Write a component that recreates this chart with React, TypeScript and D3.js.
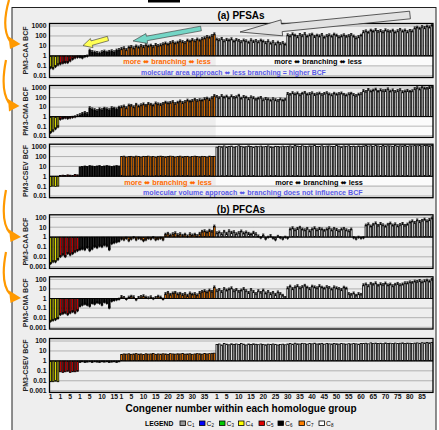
import React from 'react';
import * as d3 from 'd3';

// homologue groups present on the x axis
const groupNames = ['C4', 'C5', 'C6', 'C7', 'C8'];
const groupSizes = [4, 8, 17, 39, 89];
const groupColors = ['#ffff00', '#e00000', '#000000', '#ff7f00', '#ffffff'];
const congenerTicks = [1, 5, 10, 15, 20, 25, 30, 35, 40, 45, 50, 55, 60, 65, 70, 75, 80, 85];

const legendNums = ['1', '2', '3', '4', '5', '6', '7', '8'];
const legendColors = ['#999999', '#0000ff', '#00cc00', '#ffff00', '#e00000', '#000000', '#ff7f00', '#ffffff'];

const pfsaTicks = [0.01, 0.1, 1, 10, 100, 1000];
const pfcaTicks = [0.001, 0.01, 0.1, 1, 10, 100];

// (a) PFSAs, PM3-CAA BCF
const pfsaCaa = [
  0.06, 0.05, 0.08, 0.12,
  0.15, 0.18, 0.2, 0.2, 0.3, 0.45, 0.6, 0.7,
  0.7, 0.6, 0.8, 0.9, 3.5, 2.5, 2.2, 2.0, 1.8, 2.4, 2.8, 2.2, 2.6, 3.0, 2.4, 3.5, 4.0,
  5, 6, 4, 7, 8, 6, 9, 7, 10, 8, 12, 9, 11, 8, 13, 10, 12, 15, 18, 14, 20, 25, 18, 22, 30, 25, 20, 35, 28, 40, 30, 45, 35, 50, 60, 80, 70, 100, 150,
  45, 38, 52, 30, 42, 35, 48, 28, 40, 33, 25, 36, 30, 22, 38, 27, 32, 24, 35, 28, 20, 30, 18, 25, 15, 22, 16, 20, 14,
  120, 95, 150, 110, 80, 130, 100, 160, 90, 120, 140, 85, 110, 95, 130, 70, 100, 120, 90, 140, 110, 75, 95, 120, 85, 100, 130, 90, 60, 80, 110,
  250, 300, 220, 350, 280, 400, 260, 320, 240, 380, 300, 270, 350, 230, 310, 420, 290, 360, 250, 330, 300,
  600, 700, 550, 800, 650, 900, 750, 1100,
];
// (a) PFSAs, PM3-CMA BCF
const pfsaCma = [
  0.02, 0.03, 0.05, 0.08,
  0.5, 0.6, 0.7, 0.6, 0.7, 0.8, 0.9, 1.2,
  1.5, 2, 2.5, 2, 8, 6, 5, 4, 6, 5, 7, 6, 5, 8, 7, 6, 9,
  10, 12, 8, 15, 14, 10, 18, 12, 16, 20, 14, 22, 18, 15, 25, 20, 18, 22, 30, 25, 28, 35, 22, 30, 40, 28, 35, 50, 38, 45, 60, 45, 55, 50, 70, 80, 60, 90, 150,
  120, 90, 150, 100, 130, 85, 140, 95, 110, 160, 80, 120, 100, 70, 110, 90, 60, 80, 95, 55, 75, 65, 50, 70, 55, 45, 65, 50, 60,
  250, 200, 300, 220, 280, 180, 260, 320, 210, 240, 290, 200, 230, 270, 190, 250, 300, 220, 180, 260, 210, 240, 280, 200, 170, 230, 260, 190, 150, 210, 240,
  500, 400, 650, 450, 550, 700, 420, 600, 480, 520, 750, 450, 580, 400, 500, 620, 380, 450, 520, 420, 480,
  800, 1000, 750, 1200, 900, 850, 1100, 1300,
];
// (a) PFSAs, PM3-CSEV BCF
const pfsaCsev = [
  0.09, 0.1, 0.09, 0.1,
  1.2, 1.3, 1.2, 1.4, 1.3, 1.2, 1.5, 1.4,
  9, 10, 11, 10, 12, 11, 10, 11, 12, 10, 11, 12, 11, 10, 11, 12, 11,
  100, 110, 90, 100, 105, 95, 110, 100, 90, 105, 100, 110, 95, 100, 90, 105, 110, 100, 95, 100, 110, 105, 90, 100, 110, 95, 100, 105, 90, 100, 110, 100, 95, 105, 100, 90, 110, 100, 105,
  900, 1100, 1000, 1200, 950, 1050, 1150, 900, 1000, 1250, 1100, 950, 1000, 1200, 1050, 900, 1100, 1000, 1150, 950, 1050, 1200, 1000, 900, 1100, 1050, 950, 1150, 1000,
  1100, 1200, 1000, 1300, 1150, 1050, 1250, 1100, 1000, 1200, 1150, 1300, 1050, 1100, 1250, 1000, 1150, 1200, 1100, 1050, 1300, 1150, 1000, 1200, 1100, 1250, 1050, 1150, 1000, 1200, 1100,
  1200, 1300, 1150, 1250, 1100, 1350, 1200, 1050, 1300, 1150, 1250, 1200, 1100, 1300, 1150, 1250, 1200, 1350, 1100, 1250, 1200,
  1300, 1250, 1350, 1200, 1300, 1400, 1250, 1350,
];
// (b) PFCAs, PM3-CAA BCF
const pfcaCaa = [
  0.002, 0.003, 0.003, 0.005,
  0.01, 0.015, 0.01, 0.02, 0.015, 0.02, 0.03, 0.04,
  0.05, 0.06, 0.05, 0.08, 0.04, 0.06, 0.1, 0.08, 0.12, 0.1, 0.15, 0.12, 0.05, 0.2, 0.25, 0.3, 0.35,
  0.6, 0.5, 0.7, 0.4, 0.6, 0.8, 0.5, 0.7, 0.6, 0.4, 0.5, 0.7, 0.6, 0.8, 0.5, 0.6, 0.7, 0.5,
  1.8, 2.2, 1.5, 2.0, 2.5, 1.6, 2.0, 1.4, 1.8, 1.2, 2.0, 1.5, 1.8, 1.3, 2.2, 3.5, 4.0, 3.0, 4.5, 3.5, 12,
  2.5, 3.0, 2.0, 3.5, 2.2, 4.0, 2.8, 3.2, 2.0, 2.6, 3.8, 2.4, 3.0, 2.2, 1.8, 2.8, 2.0,
  1.2, 0.8, 1.5, 0.6, 0.9, 1.3, 0.7, 0.5, 1.1, 0.8, 0.6, 0.9, 0.7,
  6, 8, 5, 7, 9, 6, 5, 7, 4, 6, 8, 5, 7, 6, 4.5, 6, 8, 5, 7, 5.5, 4, 6, 7, 5, 4, 6,
  0.8, 0.6, 0.9, 0.7, 0.8,
  15, 20, 12, 18, 25, 14, 22, 16, 12, 18, 24, 15, 20, 13, 17, 22, 14, 19,
  30, 40, 28, 50, 35, 45, 60, 40, 55, 80,
];
// (b) PFCAs, PM3-CMA BCF
const pfcaCma = [
  0.004, 0.005, 0.006, 0.008,
  0.02, 0.025, 0.03, 0.02, 0.03, 0.04, 0.03, 0.05,
  0.15, 0.2, 0.25, 0.2, 0.15, 0.3, 0.25, 0.35, 0.3, 0.2, 0.4, 0.3, 0.1, 0.5, 0.6, 0.7, 0.8,
  1.5, 1.2, 0.8, 1.3, 1.6, 1.4, 0.7, 1.2, 1.5, 1.8, 1.3, 1.1, 1.4, 0.9, 1.2, 1.6, 1.3, 0.8,
  3, 4, 2.5, 3.5, 4, 2.8, 3.2, 2.4, 3, 2, 3.5, 2.6, 3, 2.2, 4, 5, 6, 4.5, 7, 5, 15,
  6, 8, 5, 10, 7, 9, 12, 6, 8, 5, 7, 10, 6, 4, 8, 5, 3, 6, 4, 7, 3.5, 5, 3, 4, 2.5, 4.5, 3, 2, 1.2,
  12, 18, 10, 15, 20, 12, 16, 22, 14, 10, 18, 15, 12, 20, 14, 11, 16, 13, 9, 15, 12, 10, 8, 14, 11, 3, 2.5, 3.5, 2, 3, 2.5,
  25, 30, 20, 35, 28, 40, 22, 32, 26, 38, 24, 30, 20, 28, 35, 25, 30, 40,
  40, 50, 45, 60, 55, 70, 50, 65, 75, 60, 90,
];
// (b) PFCAs, PM3-CSEV BCF
const pfcaCsev = [
  0.008, 0.008, 0.009, 0.008,
  0.08, 0.07, 0.08, 0.09, 0.07, 0.08, 0.08, 0.09,
  0.7, 0.8, 0.7, 0.75, 0.8, 0.7, 0.8, 0.75, 0.7, 0.8, 0.75, 0.8, 0.7, 0.75, 0.8, 0.7, 0.8,
  4.5, 5, 4.8, 5.2, 4.6, 5, 5.4, 4.8, 5, 4.4, 5.2, 4.8, 5, 5.5, 4.6, 5, 4.8, 5.2, 5, 4.6, 5.4, 5, 4.8, 5.2, 5, 5.6, 4.8, 5, 5.2, 4.6, 5, 5.4, 5.2, 4.8, 5.6, 5, 5.4, 5.8, 6,
  45, 50, 40, 55, 48, 42, 52, 46, 50, 44, 55, 48, 40, 50, 45, 52, 47, 43, 50, 46, 42, 48, 44, 50, 46, 40, 45, 48, 42,
  50, 55, 48, 60, 52, 50, 58, 54, 48, 56, 52, 60, 50, 54, 58, 48, 55, 52, 50, 57, 53, 49, 55, 52, 48, 54, 50, 56, 52, 48, 55,
  55, 60, 52, 65, 58, 62, 56, 60, 54, 64, 58, 60, 55, 62, 57, 60, 65, 58, 62, 60, 57,
  62, 65, 60, 68, 64, 70, 66, 72,
];

const W = 439;
const H = 430;
const X0 = 49.5;
const X1 = 433;
const FONT = 'Liberation Sans, Arial, Helvetica, sans-serif';
const ARROWFONT = 'DejaVu Sans, sans-serif';
const ORANGE_TXT = '#ff6a00';
const BLUE_TXT = '#5a5ae6';

const panels = [
  { label: 'PM3-CAA BCF', values: pfsaCaa, ticks: pfsaTicks, yTop: 26, yBot: 75.8, err: 1.35, white: [1, 0.1] },
  { label: 'PM3-CMA BCF', values: pfsaCma, ticks: pfsaTicks, yTop: 88, yBot: 135.7, err: 1.35, white: [1, 0.007] },
  { label: 'PM3-CSEV BCF', values: pfsaCsev, ticks: pfsaTicks, yTop: 146.7, yBot: 196, err: 1.08, white: [1, 0.12] },
  { label: 'PM3-CAA BCF', values: pfcaCaa, ticks: pfcaTicks, yTop: 217.3, yBot: 266.7, err: 1.35, white: null },
  { label: 'PM3-CMA BCF', values: pfcaCma, ticks: pfcaTicks, yTop: 279.3, yBot: 327.3, err: 1.35, white: null },
  { label: 'PM3-CSEV BCF', values: pfcaCsev, ticks: pfcaTicks, yTop: 341, yBot: 390.7, err: 1.08, white: null },
];

const nBars = d3.sum(groupSizes);
const groupStart = groupSizes.map((_, i) => d3.sum(groupSizes.slice(0, i)));
const barGroup: number[] = [];
groupSizes.forEach((s, g) => { for (let k = 0; k < s; k++) barGroup.push(g); });

const x = d3.scaleBand<number>().domain(d3.range(nBars)).range([X0, X1]).paddingInner(0.08);

function blockArrow(tx: number, ty: number, px: number, py: number, bw: number, hw: number, hl: number) {
  const dx = px - tx, dy = py - ty;
  const len = Math.hypot(dx, dy);
  const ux = dx / len, uy = dy / len;
  const nx = -uy, ny = ux;
  const bx = px - ux * hl, by = py - uy * hl;
  const pts = [
    [tx + nx * bw, ty + ny * bw],
    [bx + nx * bw, by + ny * bw],
    [bx + nx * hw, by + ny * hw],
    [px, py],
    [bx - nx * hw, by - ny * hw],
    [bx - nx * bw, by - ny * bw],
    [tx - nx * bw, ty - ny * bw],
  ];
  return pts.map((p) => p[0].toFixed(1) + ',' + p[1].toFixed(1)).join(' ');
}

function Panel({ p }: { p: typeof panels[number] }) {
  const lo = p.ticks[0];
  const hi = p.ticks[p.ticks.length - 1];
  const y = d3.scaleLog().domain([lo, hi]).range([p.yBot, p.yTop]);
  const boxTop = p.yTop - 2.5;
  const boxBot = p.yBot + 1.7;
  const y1 = y(1);
  const bw = x.bandwidth();
  const c8x = x(groupStart[4]) as number;
  return (
    <g>
      <rect x={X0} y={boxTop} width={X1 - X0} height={boxBot - boxTop} fill="#eeeeee" />
      {p.white && (
        <rect x={c8x} y={y(p.white[0])} width={X1 - c8x} height={Math.min(y(p.white[1]), boxBot) - y(p.white[0])} fill="#fbfbfb" />
      )}
      {p.ticks.map((t) => (
        <line key={'g' + t} x1={X0} x2={X1} y1={y(t)} y2={y(t)} stroke="#555" strokeWidth={0.8} strokeDasharray="1,1" />
      ))}
      {p.values.map((v, i) => {
        const yv = y(v);
        const g = barGroup[i];
        const xi = x(i) as number;
        const top = Math.min(yv, y1);
        const h = Math.abs(yv - y1);
        const e1 = y(v * p.err);
        const e2 = y(v / p.err);
        return (
          <g key={i}>
            <rect x={xi + 0.3} y={top} width={bw - 0.6} height={Math.max(h, 0.3)} fill={groupColors[g]} stroke="#000" strokeWidth={0.8} />
            {p.err > 1.1 && (
              <>
                <line x1={xi + bw / 2} x2={xi + bw / 2} y1={e1} y2={e2} stroke="#000" strokeWidth={0.8} />
                <line x1={xi} x2={xi + bw} y1={e1} y2={e1} stroke="#000" strokeWidth={0.8} />
              </>
            )}
          </g>
        );
      })}
      <line x1={X0} x2={X1} y1={y1} y2={y1} stroke="#000" strokeWidth={0.9} />
      <rect x={X0} y={boxTop} width={X1 - X0} height={boxBot - boxTop} fill="none" stroke="#000" strokeWidth={1.3} />
      {p.ticks.map((t) => (
        <text key={'t' + t} x={46.5} y={y(t)} dy="0.35em" textAnchor="end" fontFamily={FONT} fontWeight="bold" fontSize={6.8} fill="#111">
          {String(t)}
        </text>
      ))}
      <text transform={`translate(27.5,${(boxTop + boxBot) / 2}) rotate(-90)`} textAnchor="middle" fontFamily={FONT} fontSize={7} fontWeight="bold" fill="#222">
        {p.label}
      </text>
    </g>
  );
}

function Sub({ x0, y0, n, color }: { x0: number; y0: number; n: string; color: string }) {
  return (
    <g>
      <rect x={x0} y={y0 - 4.5} width={5.5} height={4.5} fill={color} stroke="#000" strokeWidth={0.8} />
      <text x={x0 + 7} y={y0} fontFamily={FONT} fontSize={6.8} fill="#000">
        C<tspan fontSize={4.5} dy={1.2}>{n}</tspan>
      </text>
    </g>
  );
}

function BranchText({ x0, y0, color, parts, size, anchor }: { x0: number; y0: number; color: string; parts: string[]; size: number; anchor?: string }) {
  return (
    <text x={x0} y={y0} textAnchor={anchor || 'middle'} fontFamily={FONT} fontWeight="bold" fontSize={size} fill={color}>
      {parts.map((s, k) =>
        s === '<>' ? <tspan key={k} fontFamily={ARROWFONT} fontWeight="bold">⬌</tspan> : <tspan key={k}>{s}</tspan>
      )}
    </text>
  );
}

export default function App() {
  const legendX = [180, 199.5, 219.5, 238.5, 259, 278, 299, 319];
  const tickLabels: { i: number; n: number }[] = [];
  groupSizes.forEach((s, g) => {
    congenerTicks.filter((n) => n <= s).forEach((n) => tickLabels.push({ i: groupStart[g] + n - 1, n }));
  });
  const orangeArrows = [
    { d: 'M 9,0 Q 1,28 10,41', tip: [20.5, 44], b1: [8.5, 36.5], b2: [10, 49] },
    { d: 'M 6,60 Q 0,90 9,103', tip: [19.5, 106], b1: [8, 99], b2: [9, 111.5] },
    { d: 'M 6,190 Q 0,222 10,233', tip: [21, 237], b1: [9, 229.5], b2: [10.5, 242] },
    { d: 'M 6,252 Q 0,283 10,294', tip: [21, 298], b1: [9, 290.5], b2: [10.5, 303] },
  ];
  return (
    <svg width={W} height={H} style={{ position: 'absolute', left: 0, top: 0, background: '#fff' }}>
      <rect x={148} y={-2} width={32} height={4.5} fill="#000" />

      <rect x={12} y={7.5} width={424} height={430} fill="#eeeeee" stroke="#222" strokeWidth={1} />
      <text x={241} y={18.5} textAnchor="middle" fontFamily={FONT} fontWeight="bold" fontSize={10}>(a) PFSAs</text>
      <text x={241} y={212.5} textAnchor="middle" fontFamily={FONT} fontWeight="bold" fontSize={10}>(b) PFCAs</text>
      {panels.map((p, k) => <Panel key={k} p={p} />)}

      {/* annotations */}
      <BranchText x0={167} y0={64.3} color={ORANGE_TXT} size={7.3} parts={['more ', '<>', ' branching ', '<>', ' less']} />
      <BranchText x0={318} y0={63.8} color="#000" size={7.3} parts={['more ', '<>', ' branching ', '<>', ' less']} />
      <BranchText x0={141} y0={74.5} color={BLUE_TXT} size={6.9} anchor="start" parts={['molecular area approach ', '<>', ' less branching = higher BCF']} />
      <BranchText x0={168} y0={185.1} color={ORANGE_TXT} size={7.3} parts={['more ', '<>', ' branching ', '<>', ' less']} />
      <BranchText x0={319} y0={184.8} color="#000" size={7.3} parts={['more ', '<>', ' branching ', '<>', ' less']} />
      <BranchText x0={143} y0={195.3} color={BLUE_TXT} size={7.1} anchor="start" parts={['molecular volume approach ', '<>', ' branching does not influence BCF']} />

      {/* block arrows */}
      <polygon points={blockArrow(410, 15, 240, 32, 3.8, 8, 42)} fill="#e2e2e2" stroke="#333" strokeWidth={0.8} />
      <polygon points={blockArrow(201, 28.5, 133, 41, 2.3, 5, 14)} fill="#74d6c6" stroke="#333" strokeWidth={0.6} />
      <polygon points={blockArrow(108, 38.5, 83, 45.5, 2.3, 4.8, 9)} fill="#ffff55" stroke="#333" strokeWidth={0.6} />

      {/* x tick labels */}
      {tickLabels.map((t, k) => (
        <text key={k} x={(x(t.i) as number) + x.bandwidth() / 2} y={399} textAnchor="middle" fontFamily={FONT} fontWeight="bold" fontSize={6.8} fill="#111">
          {t.n}
        </text>
      ))}
      <text x={241} y={411.5} textAnchor="middle" fontFamily={FONT} fontWeight="bold" fontSize={10}>Congener number within each homologue group</text>

      {/* legend */}
      <text x={145} y={425.5} fontFamily={FONT} fontWeight="bold" fontSize={6.8}>LEGEND</text>
      {legendNums.map((n, k) => <Sub key={n} x0={legendX[k]} y0={425.5} n={n} color={legendColors[k]} />)}

      {/* orange curved arrows */}
      {orangeArrows.map((a, k) => (
        <g key={k}>
          <path d={a.d} fill="none" stroke="#ff9900" strokeWidth={2.2} />
          <polygon points={`${a.tip.join(',')} ${a.b1.join(',')} ${a.b2.join(',')}`} fill="#ff9900" />
        </g>
      ))}
    </svg>
  );
}
